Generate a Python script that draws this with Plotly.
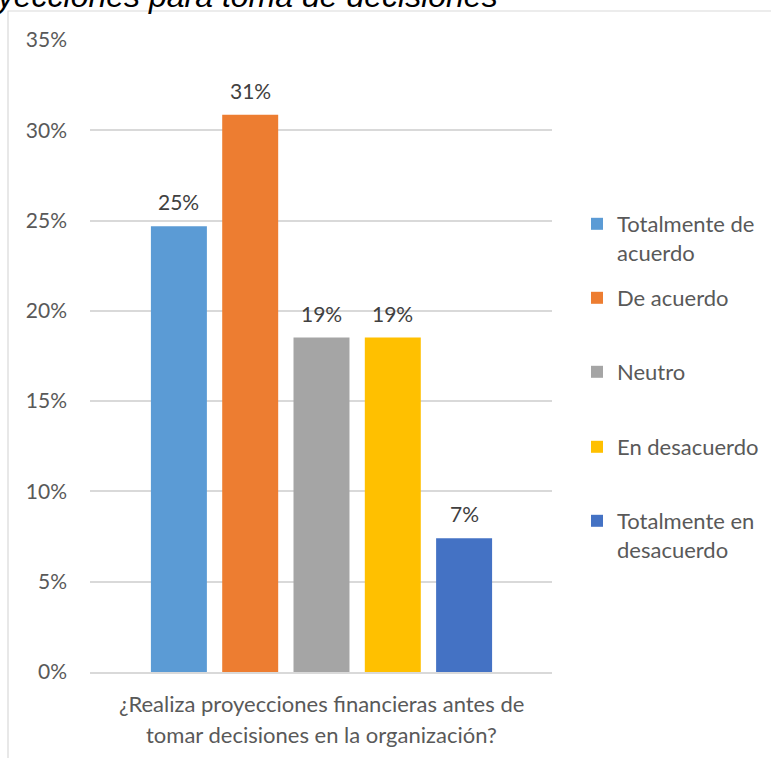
import plotly.graph_objects as go

# Survey responses (share of 81 respondents)
categories = ["Totalmente de<br>acuerdo", "De acuerdo", "Neutro", "En desacuerdo", "Totalmente en<br>desacuerdo"]
shares = [20 / 81, 25 / 81, 15 / 81, 15 / 81, 6 / 81]
share_labels = ["25%", "31%", "19%", "19%", "7%"]
colors = ["#5B9BD5", "#ED7D31", "#A5A5A5", "#FFC000", "#4472C4"]
question_lines = ["¿Realiza proyecciones financieras antes de", "tomar decisiones en la organización?"]
title_text = "Proyecciones para toma de decisiones"

W, H = 771, 758
L, R, T, B = 90, 552, 40, 672  # plot area in pixels


def px_x(p):
    return (p - L) / (R - L)


def px_y(p):
    return (B - p) / (B - T)


FONT = "Lato, 'Open Sans', sans-serif"
fig = go.Figure()

legend_tops = [203, 277, 351, 426, 500]
for i, (name, v, c) in enumerate(zip(categories, shares, colors)):
    lg = "legend" if i == 0 else f"legend{i + 1}"
    fig.add_trace(go.Bar(
        x=[i], y=[v], name=name, marker=dict(color=c, line=dict(width=0)),
        width=0.785, legend=lg, hoverinfo="skip",
    ))

# Value labels above each bar
for i, (v, t) in enumerate(zip(shares, share_labels)):
    fig.add_annotation(x=i, y=v, xref="x", yref="y", text=t, showarrow=False,
                       yanchor="bottom", yshift=10,
                       font=dict(family=FONT, size=21, color="#404040"))

# Category label under the axis
for j, (line, py) in enumerate(zip(question_lines, [703, 734])):
    fig.add_annotation(x=2, y=px_y(py), xref="x", yref="paper", text=line, showarrow=False,
                       yanchor="middle", xanchor="center",
                       font=dict(family=FONT, size=22, color="#595959"))

# Title (runs off the top-left edge)
fig.add_annotation(x=px_x(500), y=px_y(16), xref="paper", yref="paper",
                   text=f"<i>{title_text}</i>", showarrow=False,
                   xanchor="right", yanchor="bottom",
                   font=dict(family="'Liberation Sans', Arial, sans-serif", size=32, color="#000000"))

# Chart frame
fig.add_shape(type="rect", xref="paper", yref="paper",
              x0=px_x(8), x1=px_x(820), y0=px_y(820), y1=px_y(11),
              line=dict(color="#D9D9D9", width=1.2), fillcolor="rgba(0,0,0,0)", layer="below")

legend_common = dict(font=dict(family=FONT, size=22, color="#595959"), valign="top",
                     bgcolor="rgba(0,0,0,0)", xanchor="left", yanchor="top",
                     itemclick=False, itemdoubleclick=False)
layout_legends = {}
for i, top in enumerate(legend_tops):
    key = "legend" if i == 0 else f"legend{i + 1}"
    layout_legends[key] = dict(x=px_x(577), y=px_y(top), **legend_common)

fig.update_layout(
    width=W, height=H,
    margin=dict(l=L, r=W - R, t=T, b=H - B, autoexpand=False),
    paper_bgcolor="white", plot_bgcolor="white",
    barmode="overlay",
    showlegend=True,
    xaxis=dict(range=[2 - (321.5 - L) / 71.3, 2 + (R - 321.5) / 71.3], showticklabels=False,
               showgrid=False, zeroline=False, showline=True, linecolor="#D9D9D9", linewidth=1.5,
               fixedrange=True),
    yaxis=dict(range=[0, 0.35], dtick=0.05, tickformat=".0%", showgrid=True,
               gridcolor="#D9D9D9", gridwidth=1.5, zeroline=False, showline=False,
               ticklabelstandoff=22, fixedrange=True,
               tickfont=dict(family=FONT, size=21, color="#595959")),
    **layout_legends,
)

fig.write_html("out.html")
